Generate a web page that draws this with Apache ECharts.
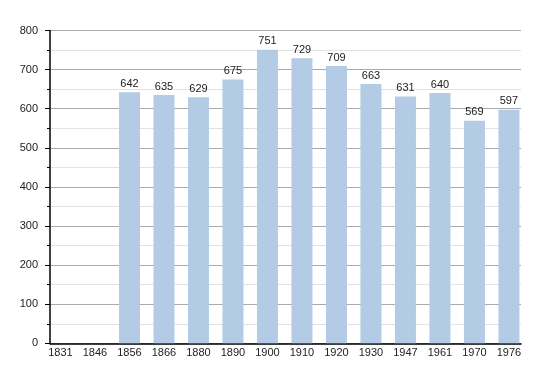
<!DOCTYPE html>
<html><head><meta charset="utf-8">
<script src="https://cdn.jsdelivr.net/npm/echarts@6/dist/echarts.min.js"></script>
<style>html,body{margin:0;padding:0;background:#fff}#c{width:550px;height:373px}</style>
</head><body><div id="c"></div>
<script>
const years = ['1831','1846','1856','1866','1880','1890','1900','1910','1920','1930','1947','1961','1970','1976'];
const population = [null,null,642,635,629,675,751,729,709,663,631,640,569,597];
const yTicks = [0,100,200,300,400,500,600,700,800];

const chart = echarts.init(document.getElementById('c'), null, {renderer:'canvas'});
const font = 'Liberation Sans, Arial, sans-serif';
chart.setOption({
  animation:false,
  grid:{left:50,right:29,top:30.5,bottom:29.7,containLabel:false},
  xAxis:{
    type:'value', min:-0.304, max:13.35,
    axisLine:{show:true,onZero:false,lineStyle:{color:'#000',width:1.5}},
    axisTick:{show:false},
    splitLine:{show:false},
    axisLabel:{customValues:years.map((y,i)=>i),formatter:v=>years[Math.round(v)],
      color:'#222',fontSize:11,fontFamily:font,margin:4}
  },
  yAxis:{
    type:'value', min:yTicks[0], max:yTicks[yTicks.length-1], interval:100,
    axisLine:{show:true,onZero:false,lineStyle:{color:'#000',width:1.5}},
    axisTick:{show:true,length:5,lineStyle:{color:'#000'}},
    minorTick:{show:true,splitNumber:2,length:3,lineStyle:{color:'#000'}},
    splitLine:{show:true,lineStyle:{color:'#aaa',width:1}},
    minorSplitLine:{show:true,lineStyle:{color:'#e2e2e2',width:1}},
    axisLabel:{color:'#222',fontSize:11,fontFamily:font,margin:12}
  },
  series:[{
    type:'bar', barWidth:21,
    data:population.map((v,i)=>[i,v]),
    itemStyle:{color:'#b3cbe5'},
    label:{show:true,position:'top',distance:3,color:'#222',fontSize:11,fontFamily:font,
      formatter:p=>p.value[1]}
  }]
});
</script></body></html>
